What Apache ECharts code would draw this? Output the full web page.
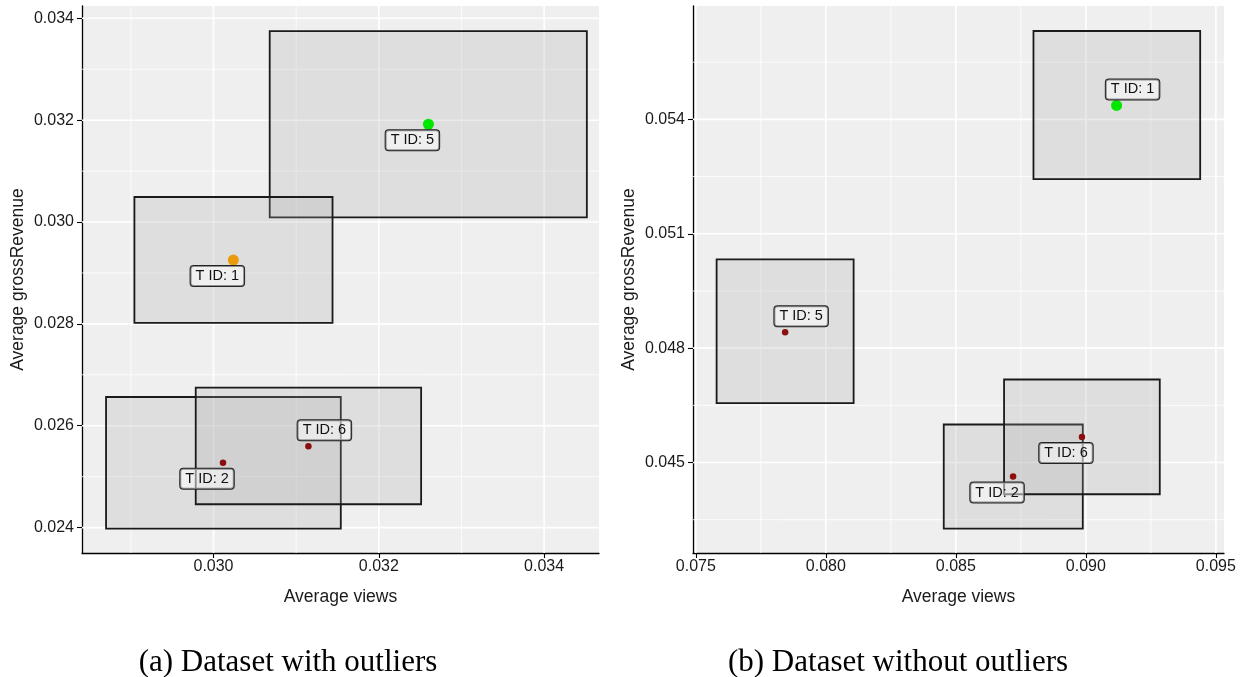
<!DOCTYPE html>
<html>
<head>
<meta charset="utf-8">
<script src="https://cdn.jsdelivr.net/npm/echarts@6/dist/echarts.min.js"></script>
<style>
  html, body { margin: 0; padding: 0; background: #fff; }
  #chart { width: 1246px; height: 677px; }
</style>
</head>
<body>
<div id="chart"></div>
<script>
// (a) dataset with outliers
const idsA = [5, 1, 2, 6];
const groupA = ['top', 'second', 'rest', 'rest'];
const viewsA = [0.03260, 0.03024, 0.030115, 0.031148];
const revenueA = [0.03192, 0.029253, 0.025273, 0.025595];
const boxViewsLoA = [0.03068, 0.029043, 0.0287, 0.029785];
const boxViewsHiA = [0.034517, 0.03144, 0.03154, 0.032512];
const boxRevLoA = [0.03009, 0.02802, 0.02398, 0.024458];
const boxRevHiA = [0.03375, 0.030491, 0.026564, 0.026747];
const xRangeA = [0.028409, 0.034664];
const yRangeA = [0.023501, 0.034242];
const xTicksA = [0.030, 0.032, 0.034];
const xMinorA = [0.029, 0.031, 0.033];
const yTicksA = [0.024, 0.026, 0.028, 0.030, 0.032, 0.034];
const yMinorA = [0.025, 0.027, 0.029, 0.031, 0.033];

// (b) dataset without outliers
const idsB = [1, 5, 2, 6];
const groupB = ['top', 'rest', 'rest', 'rest'];
const viewsB = [0.091181, 0.078435, 0.0872, 0.08985];
const revenueB = [0.054367, 0.04842, 0.044633, 0.045672];
const boxViewsLoB = [0.087985, 0.0758, 0.084535, 0.086854];
const boxViewsHiB = [0.094396, 0.081069, 0.089881, 0.092842];
const boxRevLoB = [0.052433, 0.046556, 0.043268, 0.044168];
const boxRevHiB = [0.056318, 0.050328, 0.045997, 0.047178];
const xRangeB = [0.074892, 0.095312];
const yRangeB = [0.042627, 0.056974];
const xTicksB = [0.075, 0.080, 0.085, 0.090, 0.095];
const xMinorB = [0.0775, 0.0825, 0.0875, 0.0925];
const yTicksB = [0.045, 0.048, 0.051, 0.054];
const yMinorB = [0.0435, 0.0465, 0.0495, 0.0525, 0.0555];

const SANS = '"Liberation Sans", Arial, sans-serif';
const dotColour = { top: '#00e800', second: '#ea9a0c', rest: '#8b0f0f' };
const dotSize = { top: 11, second: 11, rest: 6.5 };
// label nudge (px) per panel and id, like ggplot nudge_x / nudge_y
const nudge = {
  0: { 5: [-16, 16], 1: [-16, 16], 2: [-16, 16], 6: [16, -16] },
  1: { 1: [16, -16], 5: [16, -16], 2: [-16, 16], 6: [-16, 16] }
};

const chart = echarts.init(document.getElementById('chart'));

function gridLines(idx, xs, ys, xr, yr, width) {
  const data = xs.map(v => [v, yr[0], 0]).concat(ys.map(v => [xr[0], v, 1]));
  return {
    type: 'custom', xAxisIndex: idx, yAxisIndex: idx, z: 1, silent: true,
    data: data,
    renderItem: function (params, api) {
      const cs = params.coordSys;
      const p = api.coord([api.value(0), api.value(1)]);
      const shape = api.value(2) === 0
        ? { x1: p[0], y1: cs.y, x2: p[0], y2: cs.y + cs.height }
        : { x1: cs.x, y1: p[1], x2: cs.x + cs.width, y2: p[1] };
      return { type: 'line', shape: shape, style: { stroke: '#ffffff', lineWidth: width } };
    }
  };
}

function boxes(idx, lo, hi, rlo, rhi) {
  return {
    type: 'custom', xAxisIndex: idx, yAxisIndex: idx, z: 2, silent: true,
    data: lo.map((v, i) => [v, rlo[i], hi[i], rhi[i]]),
    renderItem: function (params, api) {
      const a = api.coord([api.value(0), api.value(3)]);
      const b = api.coord([api.value(2), api.value(1)]);
      return {
        type: 'rect',
        shape: { x: a[0], y: a[1], width: b[0] - a[0], height: b[1] - a[1] },
        style: { fill: 'rgba(168,168,168,0.24)', stroke: '#1a1a1a', lineWidth: 1.8 }
      };
    }
  };
}

function dots(idx, ids, groups, xs, ys) {
  return {
    type: 'scatter', xAxisIndex: idx, yAxisIndex: idx, z: 3, silent: true,
    data: xs.map((v, i) => ({
      value: [v, ys[i]],
      name: 'T ID: ' + ids[i],
      symbolSize: dotSize[groups[i]],
      itemStyle: { color: dotColour[groups[i]], opacity: 1 },
      label: { offset: nudge[idx][ids[i]] }
    })),
    label: {
      show: true, position: 'inside', formatter: '{b}',
      fontFamily: SANS, fontSize: 14.5, color: '#111',
      backgroundColor: 'rgba(255,255,255,0.5)', borderColor: '#222', borderWidth: 1,
      borderRadius: 3, padding: [3, 5, 2, 5]
    }
  };
}

function xAxis(idx, range, ticks) {
  return {
    type: 'value', gridIndex: idx, min: range[0], max: range[1],
    name: 'Average views', nameLocation: 'middle', nameGap: 35,
    nameTextStyle: { fontFamily: SANS, fontSize: 17.5, color: '#1a1a1a' },
    axisLine: { show: true, onZero: false, lineStyle: { color: '#000', width: 1.3 } },
    axisTick: { show: true, length: 5, customValues: ticks, lineStyle: { color: '#000', width: 1.1 } },
    axisLabel: { customValues: ticks, formatter: v => v.toFixed(3), fontFamily: SANS, fontSize: 16, color: '#1a1a1a', margin: 6 },
    splitLine: { show: false }
  };
}

function yAxis(idx, range, ticks) {
  return {
    type: 'value', gridIndex: idx, min: range[0], max: range[1],
    name: 'Average grossRevenue', nameLocation: 'middle', nameGap: 55,
    nameTextStyle: { fontFamily: SANS, fontSize: 17.5, color: '#1a1a1a' },
    axisLine: { show: true, onZero: false, lineStyle: { color: '#000', width: 1.3 } },
    axisTick: { show: true, length: 5, customValues: ticks, lineStyle: { color: '#000', width: 1.1 } },
    axisLabel: { customValues: ticks, formatter: v => v.toFixed(3), fontFamily: SANS, fontSize: 16, color: '#1a1a1a', margin: 8 },
    splitLine: { show: false }
  };
}

const option = {
  animation: false,
  grid: [
    { left: 82, right: 647, top: 6, bottom: 124, show: true, backgroundColor: '#efefef', borderWidth: 0 },
    { left: 693, right: 22, top: 6, bottom: 124, show: true, backgroundColor: '#efefef', borderWidth: 0 }
  ],
  xAxis: [xAxis(0, xRangeA, xTicksA), xAxis(1, xRangeB, xTicksB)],
  yAxis: [yAxis(0, yRangeA, yTicksA), yAxis(1, yRangeB, yTicksB)],
  series: [
    gridLines(0, xMinorA, yMinorA, xRangeA, yRangeA, 0.8),
    gridLines(0, xTicksA, yTicksA, xRangeA, yRangeA, 1.6),
    gridLines(1, xMinorB, yMinorB, xRangeB, yRangeB, 0.8),
    gridLines(1, xTicksB, yTicksB, xRangeB, yRangeB, 1.6),
    boxes(0, boxViewsLoA, boxViewsHiA, boxRevLoA, boxRevHiA),
    boxes(1, boxViewsLoB, boxViewsHiB, boxRevLoB, boxRevHiB),
    dots(0, idsA, groupA, viewsA, revenueA),
    dots(1, idsB, groupB, viewsB, revenueB)
  ],
  graphic: [
    { type: 'text', x: 288, y: 663, style: { text: '(a) Dataset with outliers', font: '31px "Liberation Serif", serif', fill: '#000', align: 'center', verticalAlign: 'middle', textAlign: 'center', textVerticalAlign: 'middle' } },
    { type: 'text', x: 898, y: 663, style: { text: '(b) Dataset without outliers', font: '31px "Liberation Serif", serif', fill: '#000', align: 'center', verticalAlign: 'middle', textAlign: 'center', textVerticalAlign: 'middle' } }
  ]
};

chart.setOption(option);
</script>
</body>
</html>
